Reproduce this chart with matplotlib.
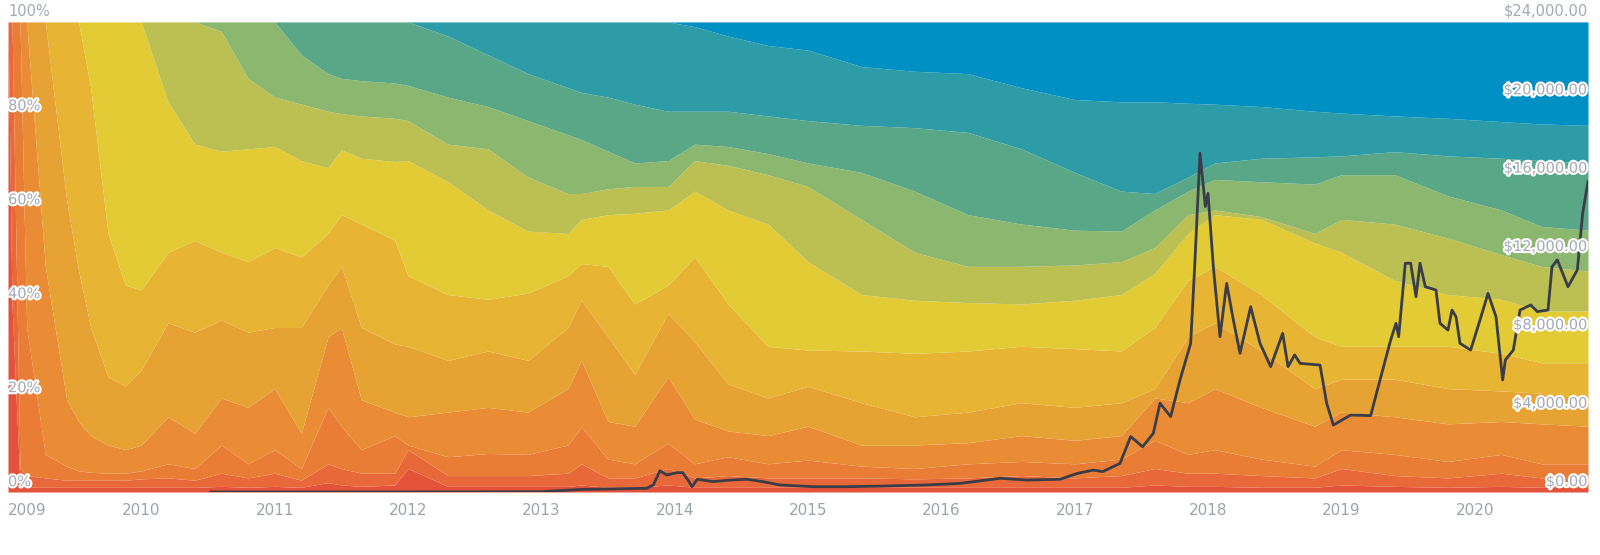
import numpy as np
import matplotlib.pyplot as plt
import matplotlib.patheffects as pe

# time grid (fractional years)
t = [2009.00, 2009.03, 2009.09, 2009.14, 2009.28, 2009.44, 2009.53, 2009.62, 2009.75, 2009.88,
     2010.0, 2010.2, 2010.4, 2010.6, 2010.8, 2011.0, 2011.2, 2011.4, 2011.5, 2011.65,
     2011.9, 2012.0, 2012.3, 2012.6, 2012.9, 2013.2, 2013.3, 2013.5, 2013.7, 2013.95,
     2014.15, 2014.4, 2014.7, 2015.0, 2015.4, 2015.8, 2016.2, 2016.6, 2017.0, 2017.35,
     2017.6, 2017.85, 2018.05, 2018.4, 2018.8, 2019.0, 2019.4, 2019.8, 2020.2, 2020.5, 2020.85]

# cumulative share (%) at the top of each age band, youngest first
lt_1d = [100, 40, 1.5, 1, 1, 1, 1, 1, 1, 1, 1, 1, 1, 1.2, 1, 1.2, 1, 2, 1.5, 1.2,
         1.5, 5, 1.2, 1.2, 1.2, 1.2, 1.5, 1, 1, 1.5, 1, 1, 1, 1, 1, 1, 1, 1, 1, 1,
         1.5, 1.2, 1.2, 1, 1, 1.5, 1.2, 1, 1.2, 1, 1]
d1_w1 = [100, 100, 5, 3.5, 3, 2.5, 2.5, 2.5, 2.5, 2.5, 2.8, 3, 2.5, 4, 3, 4, 2.5, 6, 5, 4,
         4, 9, 3.5, 3.5, 3.5, 4, 6, 3, 3, 5, 3, 3.5, 3, 3, 3, 2.8, 3, 3.5, 3, 3.5,
         5, 4, 4, 3.5, 3, 5, 3.5, 3, 4, 3, 3]
w1_m1 = [100, 100, 100, 35, 8, 5.5, 4.5, 4.2, 4, 4, 4.5, 6, 5, 10, 6, 9, 5, 18, 14, 9,
         12, 10, 7.5, 8.2, 8, 10, 13.9, 7, 6, 10.4, 6, 7.5, 6, 6.8, 5.5, 5, 6, 6.5, 6, 7,
         11, 8, 9, 7, 5.5, 9, 8, 6.5, 8, 6, 6]
m1_m3 = [100, 100, 100, 100, 48, 19.6, 15, 12, 10, 9, 10, 16, 12.5, 20, 18, 22, 12.5, 33, 35, 19.6,
         17, 16, 17, 18, 17, 22, 28, 15, 14, 24.5, 15.5, 13, 12, 14, 10, 10, 10.5, 12, 11, 12,
         20, 19, 22, 18, 14, 17, 16, 14.5, 15, 14.5, 14]
m3_m6 = [100, 100, 100, 100, 100, 62, 47, 35, 24.5, 22.5, 26, 36, 34, 36.6, 34, 35, 35, 44, 48, 35,
         31.5, 31, 28, 30, 28, 35, 40.8, 33, 25, 38, 32, 23, 20, 22.5, 19, 16, 17, 19, 18, 19,
         22, 33, 36, 30, 22, 24, 24, 22, 21.5, 21, 20]
m6_y1 = [100, 100, 100, 100, 100, 100, 100, 86, 55, 44, 43, 51, 53.5, 51, 49, 52, 50, 55, 59, 57,
         53.6, 46, 42, 41, 42.3, 46, 48.6, 48, 40, 44, 50, 40, 31, 30.2, 30, 29.5, 30, 31, 30.5, 30,
         35, 45, 48, 42, 33, 31, 31, 31, 29.5, 27.5, 27.5]
y1_y2 = [100, 100, 100, 100, 100, 100, 100, 100, 100, 100, 100, 83, 74, 72.5, 73, 73.5, 70.5, 69, 72.8, 71,
         70.3, 70.5, 66, 60, 55.5, 55, 58, 59, 59.3, 60, 64, 60, 57, 49, 42, 40.8, 40.3, 40, 40.8, 42,
         46.5, 55, 59, 58, 53, 51, 45, 42, 41, 38.5, 38.5]
y2_y3 = [100, 100, 100, 100, 100, 100, 100, 100, 100, 100, 100, 100, 100, 98, 88, 84, 82.5, 81, 80.5, 80,
         79.5, 79, 74, 73, 67, 63.5, 63.5, 64.5, 65, 65, 70.5, 69.5, 67.5, 65, 58, 51, 48, 48, 48.3, 49,
         52, 59, 60, 58.6, 55, 58, 57, 54, 50.5, 48, 47]
y3_y5 = [100, 100, 100, 100, 100, 100, 100, 100, 100, 100, 100, 100, 100, 100, 100, 100, 93, 89, 88, 87.5,
         87, 86.5, 84, 82, 79, 76, 75, 72.5, 70, 70.5, 74, 73.5, 72, 70, 68, 64, 59, 57, 55.7, 55.5,
         60, 64, 66.5, 66, 65.5, 67.5, 67.5, 63, 60, 56.5, 55.7]
y5_y7 = [100] * 22 + [97, 93, 89, 86, 85, 84, 82.5, 81, 81, 81, 80, 79, 78, 77.5, 76.5, 73, 68, 64,
                      63.5, 67, 70, 71, 71.3, 71.5, 72.4, 71.5, 71, 70.5, 70]
y7_y10 = [100] * 30 + [99, 97, 95, 94, 90.5, 89.5, 89, 86, 83.5, 83, 83, 82.7, 82.5, 82, 81,
                       80.6, 80, 79.5, 78.8, 78.3, 78]

bands = [lt_1d, d1_w1, w1_m1, m1_m3, m3_m6, m6_y1, y1_y2, y2_y3, y3_y5, y5_y7, y7_y10]
colors = ['#e5523a', '#e8683a', '#ea7d36', '#e98c35', '#e6a233', '#e7b434',
          '#e2cb35', '#bcbf52', '#8cb76f', '#5aa788', '#2e9ca6', '#0090c4']

# BTC price (USD)
price_t = [2010.52, 2011.0, 2011.94, 2012.99, 2013.29, 2013.79, 2013.84, 2013.89, 2013.94, 2014.02,
           2014.06, 2014.10, 2014.13, 2014.17, 2014.29, 2014.42, 2014.54, 2014.66, 2014.79, 2015.04,
           2015.29, 2015.54, 2015.89, 2016.14, 2016.44, 2016.64, 2016.89, 2017.02, 2017.14, 2017.21,
           2017.34, 2017.42, 2017.51, 2017.59, 2017.64, 2017.72, 2017.79, 2017.87, 2017.90, 2017.94,
           2017.98, 2018.00, 2018.04, 2018.09, 2018.14, 2018.19, 2018.24, 2018.32, 2018.39, 2018.47,
           2018.56, 2018.60, 2018.65, 2018.69, 2018.84, 2018.89, 2018.94, 2019.07, 2019.22, 2019.27,
           2019.37, 2019.41, 2019.43, 2019.48, 2019.52, 2019.56, 2019.59, 2019.63, 2019.71, 2019.74,
           2019.80, 2019.83, 2019.86, 2019.89, 2019.97, 2020.04, 2020.10, 2020.16, 2020.21, 2020.23,
           2020.29, 2020.34, 2020.42, 2020.47, 2020.55, 2020.58, 2020.62, 2020.70, 2020.77, 2020.81,
           2020.85]
price = [0.1, 0.3, 5, 13, 130, 190, 360, 1090, 870, 990,
         990, 610, 270, 650, 530, 610, 650, 530, 360, 270,
         270, 300, 360, 440, 700, 610, 650, 950, 1120, 1040,
         1460, 2830, 2310, 3000, 4530, 3850, 5720, 7590, 11500, 17300,
         14570, 15250, 11500, 7930, 10650, 8780, 7080, 9460, 7590, 6400,
         8100, 6400, 7000, 6570, 6480, 4530, 3420, 3930, 3900, 5200,
         7760, 8610, 7930, 11680, 11680, 9970, 11680, 10480, 10310, 8610,
         8270, 9290, 8950, 7590, 7250, 8780, 10140, 8950, 5720, 6740,
         7250, 9290, 9550, 9210, 9290, 11500, 11850, 10480, 11340, 14230,
         15850]

pct_ticks = [0, 20, 40, 60, 80, 100]
price_ticks = [0, 4000, 8000, 12000, 16000, 20000, 24000]
years = list(range(2009, 2021))

fig = plt.figure(figsize=(16, 5.55), dpi=100)
ax = fig.add_axes([0.005, 0.1135, 0.9875, 0.847])
lower = np.zeros(len(t))
for vals, col in zip(bands + [[100] * len(t)], colors):
    upper = np.array(vals, dtype=float)
    ax.fill_between(t, lower, upper, color=col, lw=0)
    lower = upper
ax.set_xlim(2009.0, 2020.85)
ax.set_ylim(0, 100)
for s in ax.spines.values():
    s.set_visible(False)
ax.set_yticks([])
ax.set_xticks(years)
ax.set_xticklabels([str(y) for y in years], color='#9ea3ab', fontsize=11)
ax.tick_params(axis='x', length=0, pad=8)
ax.get_xticklabels()[0].set_horizontalalignment('left')

halo = [pe.withStroke(linewidth=3, foreground='white')]
lab_col = '#a3a9b5'
for p in pct_ticks:
    txt = ax.text(2009.0, p + 0.6, f'{p}%', ha='left', va='bottom', fontsize=10.5, color=lab_col)
    if p != 100:
        txt.set_path_effects(halo)

ax2 = ax.twinx()
ax2.plot(price_t, price, color='#3a3d47', lw=2)
ax2.set_ylim(0, 24000)
ax2.set_yticks([])
for s in ax2.spines.values():
    s.set_visible(False)
for p in price_ticks:
    txt = ax2.text(2020.85, p + 150, f'${p:,.2f}', ha='right', va='bottom', fontsize=10.5, color=lab_col)
    if p != 24000:
        txt.set_path_effects(halo)

fig.savefig('out.png', dpi=100, facecolor='white')
